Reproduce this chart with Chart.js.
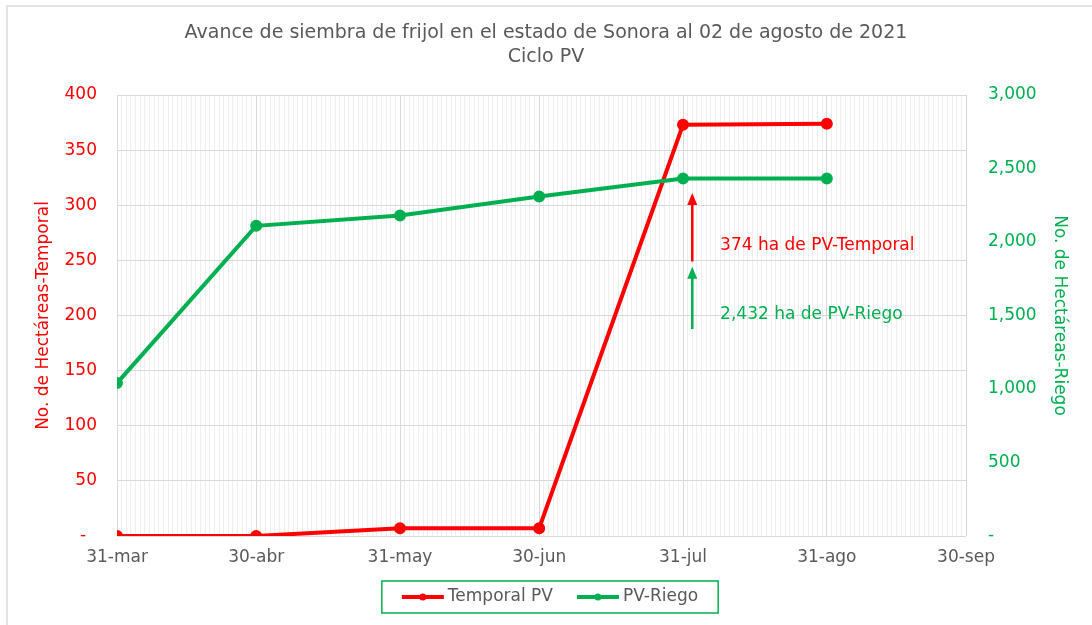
<!DOCTYPE html>
<html>
<head>
<meta charset="utf-8">
<title>Avance de siembra de frijol - Sonora</title>
<script src="https://cdn.jsdelivr.net/npm/chart.js@4.4.1/dist/chart.umd.min.js"></script>
<style>
  html, body { margin: 0; padding: 0; background: #fff; overflow: hidden; }
  #marco { position: absolute; left: 6px; top: 5px; width: 1200px; height: 700px;
           border-left: 2px solid #e4e4e4; border-top: 2px solid #e4e4e4; pointer-events: none; }
  canvas { display: block; }
</style>
</head>
<body>
<div id="marco"></div>
<canvas id="grafica" width="1092" height="625"></canvas>
<script>
// Fechas de corte (días transcurridos desde el 31 de marzo)
const fechas = ["31-mar", "30-abr", "31-may", "30-jun", "31-jul", "31-ago", "30-sep"];
const dias = [0, 30, 61, 91, 122, 153, 183];

// Hectáreas sembradas acumuladas
const temporalPV = [0, 0, 7, 7, 373, 374];
const riegoPV = [1040, 2110, 2180, 2310, 2432, 2432];

const ROJO = "#ff0000";
const VERDE = "#00b050";
const GRIS = "#595959";
const FUENTE = "'DejaVu Sans', sans-serif";

// Notas con flecha (valores en el eje de cada serie)
const diaFlecha = 124;
const diaTexto = 130;
const notas = [
    { texto: "374 ha de PV-Temporal", color: ROJO, eje: "y", desde: 249, hasta: 311, yTexto: 263 },
    { texto: "2,432 ha de PV-Riego", color: VERDE, eje: "y1", desde: 1408, hasta: 1832, yTexto: 1503 },
];

const puntos = (valores) => valores.map((v, i) => ({ x: dias[i], y: v }));

const anotaciones = {
    id: "anotaciones",
    afterDatasetsDraw(chart) {
        const ctx = chart.ctx;
        const ejeX = chart.scales.x;
        const xf = ejeX.getPixelForValue(diaFlecha);
        notas.forEach((n) => {
            const eje = chart.scales[n.eje];
            const y0 = eje.getPixelForValue(n.desde);
            const y1 = eje.getPixelForValue(n.hasta);
            ctx.save();
            ctx.strokeStyle = n.color;
            ctx.fillStyle = n.color;
            ctx.lineWidth = 2.5;
            ctx.beginPath();
            ctx.moveTo(xf, y0);
            ctx.lineTo(xf, y1 + 8);
            ctx.stroke();
            ctx.beginPath(); // punta de la flecha
            ctx.moveTo(xf, y1);
            ctx.lineTo(xf - 5, y1 + 12);
            ctx.lineTo(xf + 5, y1 + 12);
            ctx.closePath();
            ctx.fill();
            ctx.font = "17px " + FUENTE;
            ctx.textBaseline = "middle";
            ctx.fillText(n.texto, ejeX.getPixelForValue(diaTexto), eje.getPixelForValue(n.yTexto));
            ctx.restore();
        });
    },
};

const leyenda = {
    id: "leyenda",
    afterDraw(chart) {
        const ctx = chart.ctx;
        const sets = chart.data.datasets;
        ctx.save();
        ctx.font = "17px " + FUENTE;
        const anchos = sets.map((d) => 42 + 4 + ctx.measureText(d.label).width);
        const total = anchos.reduce((a, b) => a + b, 0) + 24 * (sets.length - 1);
        const cx = chart.width / 2 + 4;
        const cy = chart.height - 28;
        const w = total + 40;
        ctx.strokeStyle = VERDE;
        ctx.lineWidth = 1.5;
        ctx.strokeRect(cx - w / 2, cy - 16, w, 32);

        let x = cx - total / 2;
        sets.forEach((d, i) => {
            ctx.strokeStyle = d.borderColor;
            ctx.fillStyle = d.borderColor;
            ctx.lineWidth = 4;
            ctx.beginPath();
            ctx.moveTo(x, cy);
            ctx.lineTo(x + 42, cy);
            ctx.stroke();
            ctx.beginPath();
            ctx.arc(x + 21, cy, 3.5, 0, Math.PI * 2);
            ctx.fill();
            ctx.fillStyle = GRIS;
            ctx.textBaseline = "middle";
            ctx.fillText(d.label, x + 46, cy);
            x += anchos[i] + 24;
        });
        ctx.restore();
    },
};

new Chart(document.getElementById("grafica").getContext("2d"), {
    type: "line",
    data: {
        datasets: [{
                label: "Temporal PV",
                data: puntos(temporalPV),
                yAxisID: "y",
                borderColor: ROJO,
                backgroundColor: ROJO,
                borderWidth: 4,
                pointRadius: 4,
                order: 1,
            },
            {
                label: "PV-Riego",
                data: puntos(riegoPV),
                yAxisID: "y1",
                borderColor: VERDE,
                backgroundColor: VERDE,
                borderWidth: 4,
                pointRadius: 4,
                order: 0,
            },
        ],
    },
    options: {
        responsive: false,
        animation: false,
        layout: { padding: { left: 0, right: 0, top: 0, bottom: 59 } },
        plugins: {
            legend: { display: false },
            tooltip: { enabled: false },
            title: {
                display: true,
                text: ["Avance de siembra de frijol en el estado de Sonora al 02 de agosto de 2021", "Ciclo PV"],
                color: GRIS,
                font: { family: FUENTE, size: 19, weight: "normal", lineHeight: 24 / 19 },
                padding: { top: 21, bottom: 26 },
            },
        },
        scales: {
            x: {
                type: "linear",
                min: 0,
                max: 183,
                afterBuildTicks: (s) => {
                    s.ticks = [];
                    for (let d = 0; d <= 183; d++) s.ticks.push({ value: d });
                },
                afterFit: (s) => { s.height = 30; },
                ticks: {
                    autoSkip: false,
                    maxRotation: 0,
                    padding: 11,
                    color: GRIS,
                    font: { family: FUENTE, size: 17 },
                    callback: (v) => {
                        const i = dias.indexOf(v);
                        return i >= 0 ? fechas[i] : "";
                    },
                },
                grid: {
                    drawTicks: false,
                    color: (c) => (dias.includes(c.tick.value) ? "#d9d9d9" : "#eeeeee"),
                },
                border: { display: false },
            },
            y: {
                position: "left",
                min: 0,
                max: 400,
                afterFit: (s) => { s.width = 117; },
                ticks: {
                    stepSize: 50,
                    padding: 20,
                    color: ROJO,
                    font: { family: FUENTE, size: 17 },
                    callback: (v) => (v === 0 ? "-  " : v),
                },
                grid: { drawTicks: false, color: "#d9d9d9" },
                border: { display: true, color: "#d9d9d9" },
                title: {
                    display: true,
                    text: "No. de Hectáreas-Temporal",
                    color: ROJO,
                    font: { family: FUENTE, size: 17 },
                    padding: { top: 33, bottom: 0 },
                },
            },
            y1: {
                position: "right",
                min: 0,
                max: 3000,
                afterFit: (s) => { s.width = 126; },
                ticks: {
                    stepSize: 500,
                    padding: 22,
                    color: VERDE,
                    font: { family: FUENTE, size: 17 },
                    callback: (v) => (v === 0 ? "-" : v.toLocaleString("en-US")),
                },
                grid: { drawOnChartArea: false, drawTicks: false },
                border: { display: false },
                title: {
                    display: true,
                    text: "No. de Hectáreas-Riego",
                    color: VERDE,
                    font: { family: FUENTE, size: 17 },
                    padding: { top: 22, bottom: 0 },
                },
            },
        },
    },
    plugins: [anotaciones, leyenda],
});
</script>
</body>
</html>
